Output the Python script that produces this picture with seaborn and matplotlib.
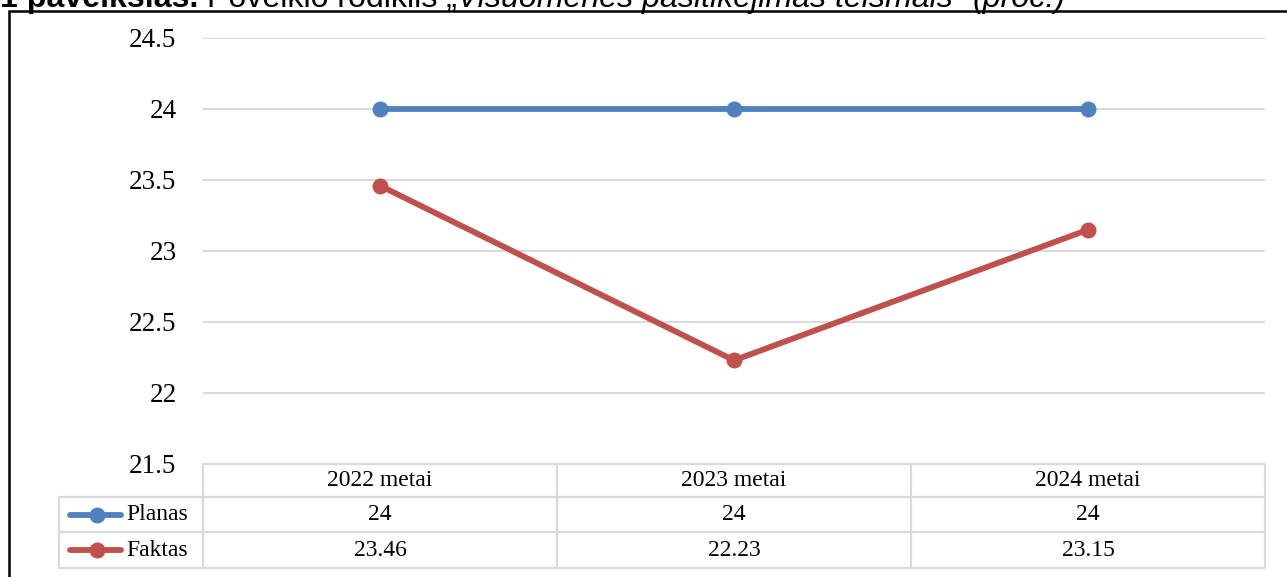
import matplotlib
matplotlib.use("Agg")
import matplotlib.pyplot as plt
from matplotlib.lines import Line2D
from matplotlib.patches import Rectangle
import seaborn as sns
import pandas as pd

categories = ["2022 metai", "2023 metai", "2024 metai"]
series_names = ["Planas", "Faktas"]
planas = [24, 24, 24]
faktas = [23.46, 22.23, 23.15]
planas_labels = ["24", "24", "24"]
faktas_labels = ["23.46", "22.23", "23.15"]
yticks = [21.5, 22, 22.5, 23, 23.5, 24, 24.5]
ytick_labels = ["21.5", "22", "22.5", "23", "23.5", "24", "24.5"]
colors = {"Planas": "#4f81bd", "Faktas": "#c0504d"}

W, H = 1287, 577
sns.set_theme(style="white")
plt.rcParams["font.family"] = ["Liberation Serif", "DejaVu Serif"]
plt.rcParams["text.color"] = "black"
plt.rcParams["ytick.color"] = "black"

fig = plt.figure(figsize=(W / 100, H / 100), dpi=100)

def fx(x):
    return x / W

def fy(y):
    return 1 - y / H

# outer frame
fig.patches.append(Rectangle((fx(9), fy(600)), fx(1300) - fx(9), fy(10.5) - fy(600),
                             transform=fig.transFigure, fill=False, edgecolor="black",
                             linewidth=1.8, zorder=5))

L, R, T, B = 203, 1265, 38, 464
ax = fig.add_axes([fx(L), fy(B), fx(R) - fx(L), fy(T) - fy(B)])

df = pd.DataFrame({
    "pos": list(range(len(categories))) * 2,
    "value": planas + faktas,
    "series": [series_names[0]] * len(categories) + [series_names[1]] * len(categories),
})
sns.lineplot(data=df, x="pos", y="value", hue="series", palette=colors, ax=ax,
             marker="o", markersize=11.5, markeredgewidth=0, linewidth=4.2,
             legend=False, zorder=3)

ax.set_xlim(-0.5, len(categories) - 0.5)
ax.set_ylim(21.5, 24.5)
ax.set_yticks(yticks)
ax.set_yticklabels(ytick_labels, fontsize=19.5, color="black")
ax.set_xticks([])
ax.set_xlabel("")
ax.set_ylabel("")
ax.tick_params(axis="y", length=0, pad=19)
for s in ax.spines.values():
    s.set_visible(False)
ax.grid(axis="y", color="#d9d9d9", linewidth=1.4)
ax.grid(axis="x", visible=False)

# table
gc = "#d9d9d9"
lw = 1.6
col_w = (R - L) / len(categories)
rows = [464, 497, 532, 568]
lines = []
lines.append(((L, R), (rows[0], rows[0])))
for y in rows[1:]:
    lines.append(((59, R), (y, y)))
lines.append(((59, 59), (rows[1], rows[3])))
for i in range(len(categories) + 1):
    x = L + i * col_w
    lines.append(((x, x), (rows[0], rows[3])))
for xs, ys in lines:
    fig.add_artist(Line2D([fx(v) for v in xs], [fy(v) for v in ys], color=gc,
                          linewidth=lw, transform=fig.transFigure))

fs = 17
row_c = [(rows[i] + rows[i + 1]) / 2 for i in range(3)]
for i, c in enumerate(categories):
    xc = L + (i + 0.5) * col_w
    fig.text(fx(xc), fy(row_c[0]), c, ha="center", va="center", fontsize=fs)
    fig.text(fx(xc), fy(row_c[1]), planas_labels[i], ha="center", va="center", fontsize=fs)
    fig.text(fx(xc), fy(row_c[2]), faktas_labels[i], ha="center", va="center", fontsize=fs)

for name, yc in zip(series_names, row_c[1:]):
    fig.add_artist(Line2D([fx(70), fx(121)], [fy(yc), fy(yc)], color=colors[name],
                          linewidth=4.2, transform=fig.transFigure, solid_capstyle="round"))
    fig.add_artist(Line2D([fx(97)], [fy(yc)], color=colors[name], marker="o",
                          markersize=11.5, markeredgewidth=0, transform=fig.transFigure))
    fig.text(fx(126), fy(yc), name, ha="left", va="center", fontsize=fs)

# clipped caption at top
fig.canvas.draw()
renderer = fig.canvas.get_renderer()
parts = [
    ("1 paveikslas. ", "bold", "normal"),
    ("Poveikio rodiklis „", "normal", "normal"),
    ("Visuomenės pasitikėjimas teismais“ ", "normal", "italic"),
    ("(proc.)", "normal", "italic"),
]
x = 0.0
for txt, wt, st in parts:
    t = fig.text(fx(x), fy(7), txt, ha="left", va="baseline", fontsize=23.1,
                 fontweight=wt, fontstyle=st, family=["Liberation Sans", "DejaVu Sans"])
    bb = t.get_window_extent(renderer)
    x += bb.width

fig.savefig("out.png", dpi=100)
